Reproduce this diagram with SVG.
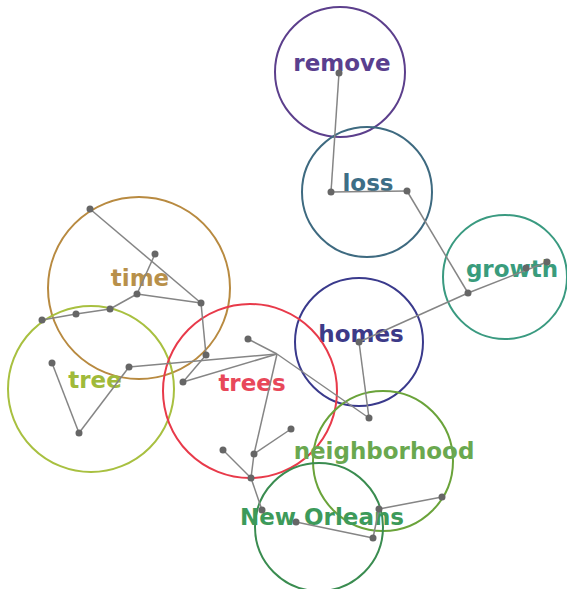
<svg xmlns="http://www.w3.org/2000/svg" width="567" height="589" viewBox="0 0 567 589">
<style>
.ring{fill:none;stroke-width:2}
.lbl{font-family:"DejaVu Sans","Liberation Sans",sans-serif;font-weight:bold;font-size:23px;text-anchor:middle}
#connectors line{stroke:#858585;stroke-width:1.5}
#points circle{fill:#666}
</style>
<rect width="567" height="589" fill="#fff"/>
<g id="node-remove"><circle class="ring" cx="340" cy="72" r="65" stroke="#5c3f8c"/><text class="lbl" x="342" y="71" fill="#5a3f8e">remove</text></g>
<g id="node-loss"><circle class="ring" cx="367" cy="192" r="65" stroke="#3e6a80"/><text class="lbl" x="368" y="191" fill="#3d6e86">loss</text></g>
<g id="node-growth"><circle class="ring" cx="505" cy="277" r="62" stroke="#3a9a80"/><text class="lbl" x="512" y="277" fill="#3a9c7c">growth</text></g>
<g id="node-homes"><circle class="ring" cx="359" cy="342" r="64" stroke="#3a3a8c"/><text class="lbl" x="361" y="342" fill="#3d3a88">homes</text></g>
<g id="node-time"><circle class="ring" cx="139" cy="288" r="91" stroke="#b88a40"/><text class="lbl" x="140" y="286" fill="#b8904a">time</text></g>
<g id="node-tree"><circle class="ring" cx="91" cy="389" r="83" stroke="#a8c040"/><text class="lbl" x="95" y="388" fill="#a0ba3a">tree</text></g>
<g id="node-trees"><circle class="ring" cx="250" cy="391" r="87" stroke="#e83a4a"/><text class="lbl" x="252" y="391" fill="#e8485a">trees</text></g>
<g id="node-neighborhood"><circle class="ring" cx="383" cy="461" r="70" stroke="#6aa33a"/><text class="lbl" x="384" y="459" fill="#6aa84f">neighborhood</text></g>
<g id="node-new-orleans"><circle class="ring" cx="319" cy="527" r="64" stroke="#3a8c50"/><text class="lbl" x="322" y="525" fill="#3d9a5a">New Orleans</text></g>
<g id="connectors">
<line x1="90" y1="209" x2="201" y2="303"/>
<line x1="155" y1="254" x2="137" y2="294"/>
<line x1="137" y1="294" x2="201" y2="303"/>
<line x1="137" y1="294" x2="110" y2="309"/>
<line x1="110" y1="309" x2="76" y2="314"/>
<line x1="76" y1="314" x2="42" y2="320"/>
<line x1="201" y1="303" x2="206" y2="355"/>
<line x1="206" y1="355" x2="183" y2="382"/>
<line x1="52" y1="363" x2="79" y2="433"/>
<line x1="79" y1="433" x2="129" y2="367"/>
<line x1="129" y1="367" x2="277" y2="354"/>
<line x1="183" y1="382" x2="277" y2="354"/>
<line x1="248" y1="339" x2="277" y2="354"/>
<line x1="277" y1="354" x2="254" y2="454"/>
<line x1="254" y1="454" x2="291" y2="429"/>
<line x1="223" y1="450" x2="251" y2="478"/>
<line x1="254" y1="454" x2="251" y2="478"/>
<line x1="251" y1="478" x2="262" y2="510"/>
<line x1="296" y1="522" x2="373" y2="538"/>
<line x1="373" y1="538" x2="379" y2="509"/>
<line x1="379" y1="509" x2="442" y2="497"/>
<line x1="277" y1="354" x2="369" y2="418"/>
<line x1="359" y1="342" x2="369" y2="418"/>
<line x1="359" y1="342" x2="468" y2="293"/>
<line x1="468" y1="293" x2="547" y2="262"/>
<line x1="407" y1="191" x2="468" y2="293"/>
<line x1="331" y1="192" x2="407" y2="191"/>
<line x1="339" y1="73" x2="331" y2="192"/>
</g>
<g id="points">
<circle cx="90" cy="209" r="3.5"/>
<circle cx="155" cy="254" r="3.5"/>
<circle cx="137" cy="294" r="3.5"/>
<circle cx="201" cy="303" r="3.5"/>
<circle cx="110" cy="309" r="3.5"/>
<circle cx="76" cy="314" r="3.5"/>
<circle cx="42" cy="320" r="3.5"/>
<circle cx="206" cy="355" r="3.5"/>
<circle cx="52" cy="363" r="3.5"/>
<circle cx="129" cy="367" r="3.5"/>
<circle cx="183" cy="382" r="3.5"/>
<circle cx="79" cy="433" r="3.5"/>
<circle cx="248" cy="339" r="3.5"/>
<circle cx="223" cy="450" r="3.5"/>
<circle cx="254" cy="454" r="3.5"/>
<circle cx="291" cy="429" r="3.5"/>
<circle cx="251" cy="478" r="3.5"/>
<circle cx="262" cy="510" r="3.5"/>
<circle cx="296" cy="522" r="3.5"/>
<circle cx="373" cy="538" r="3.5"/>
<circle cx="379" cy="509" r="3.5"/>
<circle cx="442" cy="497" r="3.5"/>
<circle cx="359" cy="342" r="3.5"/>
<circle cx="369" cy="418" r="3.5"/>
<circle cx="468" cy="293" r="3.5"/>
<circle cx="526" cy="268" r="3.5"/>
<circle cx="547" cy="262" r="3.5"/>
<circle cx="407" cy="191" r="3.5"/>
<circle cx="331" cy="192" r="3.5"/>
<circle cx="339" cy="73" r="3.5"/>
</g>
</svg>
